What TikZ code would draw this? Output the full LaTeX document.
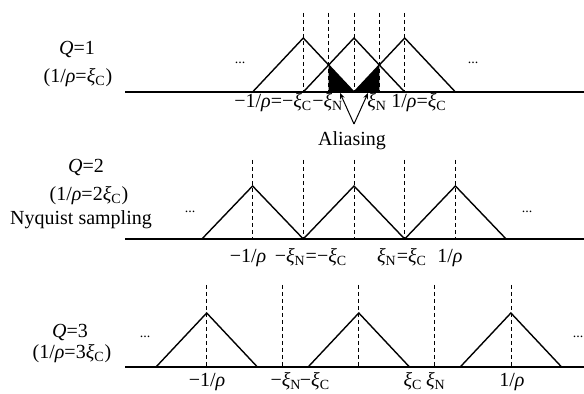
\documentclass[tikz,border=0pt]{standalone}
\usepackage{fontspec}
\setmainfont{Liberation Serif}
\usetikzlibrary{arrows.meta}
\newcommand{\rh}{\textit{ρ}}
\newcommand{\xc}{\textit{ξ}\textsubscript{C}}
\newcommand{\xn}{\textit{ξ}\textsubscript{N}}
\newcommand{\dotsmall}{{\fontsize{7}{8}\selectfont ...}}

\begin{document}
\begin{tikzpicture}[x=0.5pt, y=-0.5pt, font=\fontsize{10}{12}\selectfont,
  spec/.style={line width=0.7pt, line join=miter},
  guide/.style={line width=0.4pt, dash pattern=on 2.2pt off 1.3pt},
  lbl/.style={inner sep=0pt}]
  \useasboundingbox (0,0) rectangle (584,394);
  \def\u{50.7}
  % Q=1: overlapping copies
  \node[lbl] (q1) at (77,50) {\textit{Q}=1};
  \node[lbl] (r1) at (78,78) {(1/\rh=\xc)};
  \fill ({354-\u/2},65) -- ({354-\u/2},92) -- (354,92) -- cycle;
  \fill (354,92) -- ({354+\u/2},65) -- ({354+\u/2},92) -- cycle;
  \foreach \k in {-2,...,2}
    \draw[guide] ({354+\k*\u/2},13) -- ({354+\k*\u/2},92);
  \foreach \k in {-1,0,1}
    \draw[spec] ({354+\k*\u-\u},92) -- ({354+\k*\u},38) -- ({354+\k*\u+\u},92);
  \draw[spec] (125,92) -- (584,92);
  \node[lbl] (d1l) at (240,63) {\dotsmall};
  \node[lbl] (d1r) at (473,63) {\dotsmall};
  \node[lbl, anchor=base west] (l1a) at (234,107.5) {−1/\rh=−\xc−\xn};
  \node[lbl, anchor=base west] (l1c) at (367,107.5) {\xn};
  \node[lbl, anchor=base west] (l1d) at (391,107.5) {1/\rh=\xc};
  % aliasing pointers
  \coordinate (vtip) at (354,124);
  \coordinate (alsl) at (340,93);
  \coordinate (alsr) at (368,93);
  \draw[line width=0.5pt, -{Stealth[length=3pt, width=2.4pt]}] (vtip) -- (alsl);
  \draw[line width=0.5pt, -{Stealth[length=3pt, width=2.4pt]}] (vtip) -- (alsr);
  \node[lbl] (alias) at (352,141) {Aliasing};
  % Q=2: Nyquist
  \node[lbl] (q2) at (86,168) {\textit{Q}=2};
  \node[lbl] (r2) at (89,196) {(1/\rh=2\xc)};
  \node[lbl] (ny) at (81,220) {Nyquist sampling};
  \foreach \k in {-2,...,2}
    \draw[guide] ({354+\k*\u},160) -- ({354+\k*\u},239);
  \foreach \k in {-1,0,1}
    \draw[spec] ({354+2*\k*\u-\u},239) -- ({354+2*\k*\u},186) -- ({354+2*\k*\u+\u},239);
  \draw[spec] (125,239) -- (584,239);
  \node[lbl] (d2l) at (190,212) {\dotsmall};
  \node[lbl] (d2r) at (527,212) {\dotsmall};
  \node[lbl, anchor=base] (l2a) at (248,262.7) {−1/\rh};
  \node[lbl, anchor=base] (l2b) at (311,262.7) {−\xn=−\xc};
  \node[lbl, anchor=base] (l2c) at (402,262.7) {\xn=\xc};
  \node[lbl, anchor=base] (l2d) at (450,262.7) {1/\rh};
  % Q=3: separated copies
  \node[lbl] (q3) at (70,333) {\textit{Q}=3};
  \node[lbl] (r3) at (72,354) {(1/\rh=3\xc)};
  \foreach \k in {-2,...,2}
    \draw[guide] ({358.8+1.5*\k*\u},285) -- ({358.8+1.5*\k*\u},367);
  \foreach \k in {-1,0,1}
    \draw[spec] ({358.8+3*\k*\u-\u},367) -- ({358.8+3*\k*\u},313) -- ({358.8+3*\k*\u+\u},367);
  \draw[spec] (125,367) -- (584,367);
  \node[lbl] (d3l) at (145,337) {\dotsmall};
  \node[lbl] (d3r) at (578,337) {\dotsmall};
  \node[lbl, anchor=base] (l3a) at (207,387) {−1/\rh};
  \node[lbl, anchor=base] (l3b) at (286,387) {−\xn};
  \node[lbl, anchor=base] (l3c) at (315,387) {−\xc};
  \node[lbl, anchor=base] (l3d) at (413,387) {\xc};
  \node[lbl, anchor=base] (l3e) at (436,387) {\xn};
  \node[lbl, anchor=base] (l3f) at (512,387) {1/\rh};
\end{tikzpicture}
\end{document}
